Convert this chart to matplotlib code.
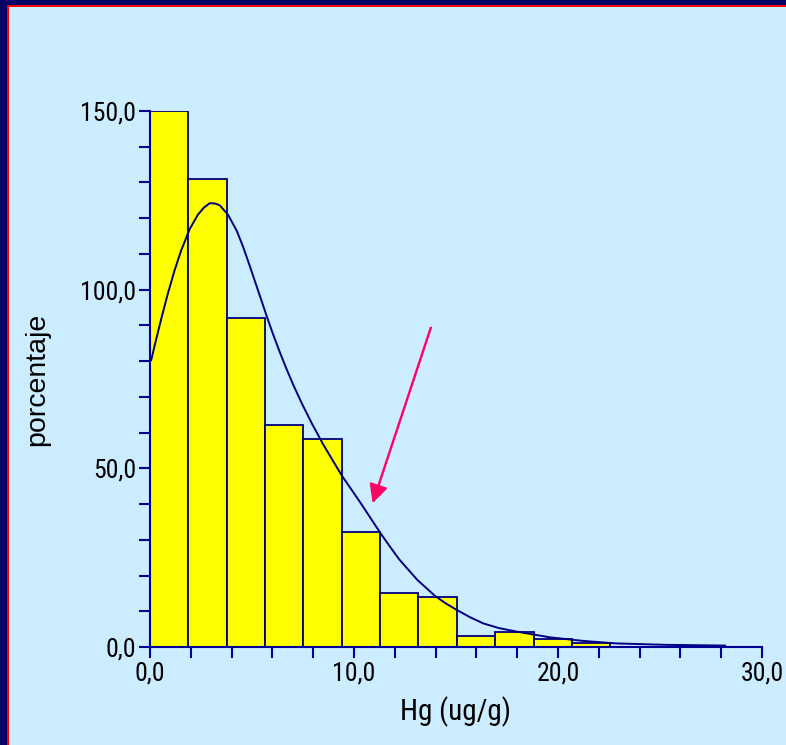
import numpy as np
import matplotlib
matplotlib.use('Agg')
import matplotlib.pyplot as plt
from matplotlib import font_manager as fm
from matplotlib.patches import Rectangle, FancyArrowPatch
from matplotlib.ticker import MultipleLocator, FuncFormatter

# histogram of Hg (ug/g), bin width
bin_width = 1.88
bar_heights = [150.0, 131.0, 92.2, 62.1, 58.1, 32.1, 15.2, 14.1, 3.1, 4.3, 2.1, 1.2]

# fitted curve, points
curve_x = [0.06, 0.23, 0.55, 0.88, 1.21, 1.53, 1.95, 2.35, 2.65, 2.93, 3.2, 3.42,
           3.82, 4.25, 4.57, 4.90, 5.23, 5.55, 5.72, 6.04, 6.37, 6.70, 7.02, 7.44,
           7.93, 8.50, 9.40, 10.29, 11.27, 11.76, 12.22, 13.1, 13.97, 14.5, 15.03,
           15.7, 16.34, 17.1, 17.98, 19.61, 21.24, 22.88, 25.33, 28.19]
curve_y = [80.3, 84.4, 91.8, 99.0, 105.5, 111.0, 117.0, 121.0, 123.0, 124.2, 124.1, 123.6,
           121.0, 116.5, 111.9, 106.5, 100.9, 95.5, 92.6, 87.4, 82.4, 77.7, 73.4, 68.2,
           62.6, 56.6, 48.0, 40.6, 32.1, 28.1, 24.5, 18.8, 14.3, 12.2, 10.4,
           8.3, 6.6, 5.3, 4.3, 2.7, 1.7, 1.0, 0.6, 0.4]

# pink arrow (start, tip) in data units
arrow_start = (13.81, 90.1)
arrow_tip = (10.87, 39.5)

bg = '#CCECFF'
navy = '#000080'


def pick_narrow():
    # the original uses a narrow sans face; take one if installed
    prefs = ['Liberation Sans Narrow', 'Arial Narrow', 'Roboto Condensed',
             'Open Sans Condensed', 'Noto Sans Condensed', 'DejaVu Sans Condensed']
    fonts = fm.fontManager.ttflist
    regular = lambda f: f.style == 'normal' and f.weight in (400, 'normal', 'regular')
    for p in prefs:
        for f in fonts:
            if f.name == p and regular(f):
                return fm.FontProperties(fname=f.fname)
    for f in fonts:
        if (f.stretch in ('condensed', 'semi-condensed') and regular(f)
                and 'Mono' not in f.name and 'Serif' not in f.name):
            return fm.FontProperties(fname=f.fname)
    return fm.FontProperties(family='Liberation Sans')


W, H = 786, 745
fig = plt.figure(figsize=(W / 100, H / 100), dpi=100, facecolor=bg)

# frame: navy band with a thin red line, left and top edges only
fig.patches.append(Rectangle((0, 0), 7 / W, 1, transform=fig.transFigure,
                             facecolor='#000066', edgecolor='none', zorder=0))
fig.patches.append(Rectangle((0, 1 - 5 / H), 1, 5 / H, transform=fig.transFigure,
                             facecolor='#000066', edgecolor='none', zorder=0))
fig.patches.append(Rectangle((7 / W, 0), 2 / W, 1 - 5 / H, transform=fig.transFigure,
                             facecolor='#FF0000', edgecolor='none', zorder=0))
fig.patches.append(Rectangle((7 / W, 1 - 7 / H), 1, 2 / H, transform=fig.transFigure,
                             facecolor='#FF0000', edgecolor='none', zorder=0))

ax = fig.add_axes([150 / W, 1 - 647 / H, (762 - 150) / W, (647 - 111) / H])
ax.set_facecolor(bg)

lefts = np.arange(len(bar_heights)) * bin_width
ax.bar(lefts, bar_heights, width=bin_width, align='edge', color='#FFFF00',
       edgecolor=navy, linewidth=1.3, zorder=2)
ax.plot(curve_x, curve_y, color=navy, linewidth=1.4, zorder=3,
        solid_joinstyle='round')

arrow = FancyArrowPatch(arrow_start, arrow_tip, arrowstyle='-|>', mutation_scale=28,
                        color='#FF0066', linewidth=1.7, zorder=4)
ax.add_patch(arrow)

ax.set_xlim(0, 30)
ax.set_ylim(0, 150)
for s in ['top', 'right']:
    ax.spines[s].set_visible(False)
for s in ['left', 'bottom']:
    ax.spines[s].set_color('#000099')
    ax.spines[s].set_linewidth(1.5)

fmt = FuncFormatter(lambda v, p: ('%.1f' % v).replace('.', ','))
ax.xaxis.set_major_locator(MultipleLocator(10))
ax.xaxis.set_minor_locator(MultipleLocator(2))
ax.yaxis.set_major_locator(MultipleLocator(50))
ax.yaxis.set_minor_locator(MultipleLocator(10))
ax.xaxis.set_major_formatter(fmt)
ax.yaxis.set_major_formatter(fmt)

fp = pick_narrow()
ax.tick_params(which='both', direction='out', length=8, width=1.5, color='#000099',
               labelcolor='black')
ax.tick_params(axis='x', pad=2.5)
ax.tick_params(axis='y', pad=2)
for lab in ax.get_xticklabels() + ax.get_yticklabels():
    lab.set_fontproperties(fp)
    lab.set_fontsize(18.5)

ax.set_xlabel('Hg (ug/g)', fontproperties=fp, fontsize=21)
ax.xaxis.set_label_coords(0.5, -0.092)
ax.set_ylabel('porcentaje', family=['Liberation Sans', 'DejaVu Sans'], fontsize=20.5)
ax.yaxis.set_label_coords(-0.163, 0.5)

fig.savefig('out.png', dpi=100, facecolor=bg)
